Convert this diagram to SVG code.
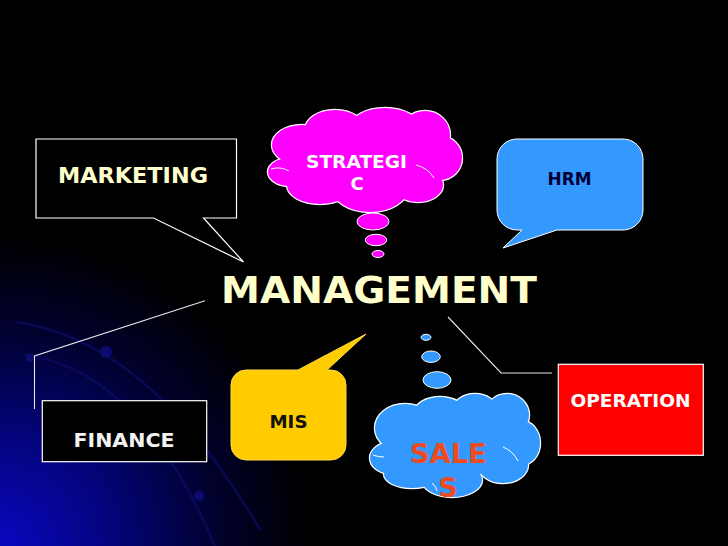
<svg xmlns="http://www.w3.org/2000/svg" width="728" height="546" viewBox="0 0 728 546">
  <defs>
    <radialGradient id="bgGlow" gradientUnits="userSpaceOnUse" cx="0" cy="546" r="310">
      <stop offset="0" stop-color="#0808C0"/>
      <stop offset="0.35" stop-color="#04047e"/>
      <stop offset="0.7" stop-color="#01012e"/>
      <stop offset="1" stop-color="#000000"/>
    </radialGradient>
    <g id="cloud1">
      <ellipse cx="290" cy="172" rx="22" ry="14"/>
      <ellipse cx="302" cy="145" rx="30" ry="20"/>
      <ellipse cx="335" cy="130" rx="30" ry="20"/>
      <ellipse cx="385" cy="128" rx="35" ry="20"/>
      <ellipse cx="425" cy="135" rx="25" ry="24"/>
      <ellipse cx="440" cy="158" rx="22" ry="22"/>
      <ellipse cx="418" cy="185" rx="25" ry="17"/>
      <ellipse cx="370" cy="188" rx="38" ry="24"/>
      <ellipse cx="320" cy="185" rx="33" ry="19"/>
      <ellipse cx="362" cy="160" rx="75" ry="35"/>
    </g>
    <g id="cloud2">
      <ellipse cx="392" cy="458" rx="22" ry="16"/>
      <ellipse cx="405" cy="428" rx="30" ry="24"/>
      <ellipse cx="440" cy="412" rx="25" ry="15"/>
      <ellipse cx="475" cy="410" rx="22" ry="16"/>
      <ellipse cx="507" cy="415" rx="22" ry="21"/>
      <ellipse cx="522" cy="443" rx="18" ry="22"/>
      <ellipse cx="503" cy="465" rx="25" ry="18"/>
      <ellipse cx="452" cy="480" rx="30" ry="17"/>
      <ellipse cx="412" cy="474" rx="28" ry="14"/>
      <ellipse cx="455" cy="445" rx="60" ry="32"/>
    </g>
  </defs>
  <style>
    text { font-family: "DejaVu Sans", Verdana, sans-serif; font-weight: bold; text-anchor: middle; }
    .conn { fill: none; stroke: #e6e6e6; stroke-width: 1.1; }
    .arc { fill: none; stroke: #0d0d66; stroke-width: 2.5; opacity: 0.7; }
    .magenta { fill: #FF00FF; }
    .blue { fill: #3399FF; }
    .outline { stroke: #ffffff; stroke-width: 2.4; }
    .inner { fill: none; stroke: #ffffff; stroke-width: 1; }
  </style>

  <!-- background -->
  <rect x="0" y="0" width="728" height="546" fill="#000000"/>
  <rect x="0" y="0" width="728" height="546" fill="url(#bgGlow)"/>
  <path class="arc" d="M 15,322 Q 150,340 260,530"/>
  <path class="arc" d="M 25,355 Q 140,370 215,546"/>
  <circle cx="30" cy="358" r="4" fill="#0c0c70"/>
  <circle cx="106" cy="352" r="6" fill="#0c0c70"/>
  <circle cx="199" cy="496" r="5" fill="#0c0c70"/>

  <!-- connectors -->
  <g id="connectors">
    <polyline class="conn" points="205,300.7 34.5,356 34.5,409"/>
    <polyline class="conn" points="448,317 501,373 552,373"/>
  </g>

  <!-- MANAGEMENT -->
  <g id="management">
    <text x="379" y="303" font-size="38" fill="#FFFFCC" textLength="316" lengthAdjust="spacingAndGlyphs">MANAGEMENT</text>
  </g>

  <!-- MARKETING -->
  <g id="marketing">
    <path d="M36,139 H236.5 V218 H203.5 L243.5,262 L153.5,218 H36 Z" fill="#000000" stroke="#ffffff" stroke-width="1.2"/>
    <text x="133" y="183" font-size="21" fill="#FFFFCC" textLength="150" lengthAdjust="spacingAndGlyphs">MARKETING</text>
  </g>

  <!-- STRATEGIC -->
  <g id="strategic">
    <use href="#cloud1" class="magenta outline"/>
    <use href="#cloud1" class="magenta"/>
    <path class="inner" d="M 271,169 Q 280,166 289,171"/>
    <path class="inner" d="M 416,165 Q 428,168 434,178"/>
    <ellipse cx="373" cy="221.5" rx="16" ry="8.5" class="magenta" stroke="#ffffff" stroke-width="1"/>
    <ellipse cx="376" cy="240" rx="10.7" ry="5.7" class="magenta" stroke="#ffffff" stroke-width="1"/>
    <ellipse cx="378" cy="254" rx="6" ry="3.5" class="magenta" stroke="#ffffff" stroke-width="1"/>
    <text x="356.5" y="168" font-size="18" fill="#ffffff" textLength="101" lengthAdjust="spacingAndGlyphs">STRATEGI</text>
    <text x="357" y="190" font-size="18" fill="#ffffff">C</text>
  </g>

  <!-- HRM -->
  <g id="hrm">
    <path d="M517,139 H623 A20,20 0 0 1 643,159 V210 A20,20 0 0 1 623,230 H557 L503,248 L522,230 H517 A20,20 0 0 1 497,210 V159 A20,20 0 0 1 517,139 Z" fill="#3399FF" stroke="#ffffff" stroke-width="1"/>
    <text x="569.5" y="185" font-size="17" fill="#000033" textLength="44" lengthAdjust="spacingAndGlyphs">HRM</text>
  </g>

  <!-- FINANCE -->
  <g id="finance">
    <rect x="42.3" y="400.7" width="164.4" height="61" fill="#000000" stroke="#ffffff" stroke-width="1.2"/>
    <text x="124" y="447" font-size="20" fill="#F2F2F2" textLength="101" lengthAdjust="spacingAndGlyphs">FINANCE</text>
  </g>

  <!-- MIS -->
  <g id="mis">
    <path d="M246,370 H298 L366,334 L327,370 H331 A15,15 0 0 1 346,385 V445 A15,15 0 0 1 331,460 H246 A15,15 0 0 1 231,445 V385 A15,15 0 0 1 246,370 Z" fill="#FFCC00" stroke="#FFD84A" stroke-width="1"/>
    <text x="288.5" y="428" font-size="18" fill="#111111" textLength="38" lengthAdjust="spacingAndGlyphs">MIS</text>
  </g>

  <!-- SALES -->
  <g id="sales">
    <ellipse cx="426" cy="337.3" rx="5" ry="3" class="blue" stroke="#ffffff" stroke-width="1"/>
    <ellipse cx="431" cy="356.7" rx="9.3" ry="5.7" class="blue" stroke="#ffffff" stroke-width="1"/>
    <ellipse cx="437" cy="380" rx="14" ry="8.3" class="blue" stroke="#ffffff" stroke-width="1"/>
    <use href="#cloud2" class="blue outline"/>
    <use href="#cloud2" class="blue"/>
    <path class="inner" d="M 373,455 Q 378,457 384,457"/>
    <path class="inner" d="M 503,447 Q 513,451 518,461"/>
    <path class="inner" d="M 432,483 Q 436,486 437,491"/>
    <text x="448.3" y="463" font-size="27" fill="#EE4B22" textLength="77" lengthAdjust="spacingAndGlyphs">SALE</text>
    <text x="448" y="497" font-size="27" fill="#EE4B22">S</text>
  </g>

  <!-- OPERATION -->
  <g id="operation">
    <rect x="558.3" y="364.3" width="145" height="91" fill="#FF0000" stroke="#ffffff" stroke-width="1.2"/>
    <text x="630.5" y="406.7" font-size="17.5" fill="#ffffff" textLength="120" lengthAdjust="spacingAndGlyphs">OPERATION</text>
  </g>
</svg>
